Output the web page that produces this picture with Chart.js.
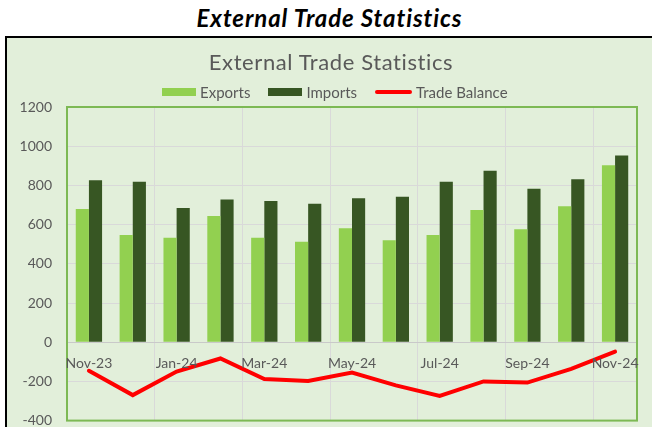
<!DOCTYPE html>
<html>
<head>
<meta charset="utf-8">
<title>External Trade Statistics</title>
<script src="https://cdn.jsdelivr.net/npm/chart.js"></script>
<style>
  body { margin: 0; background: #fff; width: 652px; height: 427px; overflow: hidden; position: relative; font-family: Lato, sans-serif; }
  #page-title { position: absolute; left: 0; width: 659px; top: 3px; text-align: center; font-weight: bold; font-style: italic; font-size: 24px; letter-spacing: 0.9px; color: #000; line-height: 30px; }
  #box { position: absolute; left: 5px; top: 36px; width: 700px; height: 420px; border: 2px solid #000; background: #E2EFDA; }
  #chart-title { position: absolute; left: 0; width: 648px; top: 10px; text-align: center; font-size: 22px; letter-spacing: 0.6px; color: #595959; line-height: 28px; }
  #legend { position: absolute; left: 155px; top: 45px; display: flex; align-items: center; font-size: 15px; color: #595959; line-height: 18px; }
  .item { display: flex; align-items: center; margin-right: 18px; }
  .swatch { width: 34px; height: 8px; margin-right: 4px; }
  .swatch.line { width: 37px; height: 4px; border-radius: 2px; }
  #wrap { position: absolute; left: 0; top: 0; width: 700px; height: 406px; }
</style>
</head>
<body>
<div id="page-title">External Trade Statistics</div>
<div id="box">
  <div id="wrap"><canvas id="trade"></canvas></div>
  <div id="chart-title">External Trade Statistics</div>
  <div id="legend"></div>
</div>
<script>
// months Nov-23 .. Nov-24
const months = ['Nov-23', 'Dec-23', 'Jan-24', 'Feb-24', 'Mar-24', 'Apr-24', 'May-24',
  'Jun-24', 'Jul-24', 'Aug-24', 'Sep-24', 'Oct-24', 'Nov-24'];
const exportsData = [680, 547, 533, 644, 533, 513, 581, 520, 547, 674, 576, 694, 903];
const importsData = [826, 819, 685, 728, 721, 706, 735, 742, 819, 875, 783, 832, 952];
const balanceData = [-146, -270, -150, -83, -188, -198, -155, -220, -274, -200, -206, -136, -48];

const textGray = '#595959';
const gridGray = '#D9D9D9';

const plotBorder = {
  id: 'plotBorder',
  beforeDatasetsDraw(chart) {
    const { ctx, chartArea } = chart;
    ctx.save();
    ctx.strokeStyle = '#7DB954';
    ctx.lineWidth = 2;
    ctx.strokeRect(chartArea.left, chartArea.top, chartArea.right - chartArea.left, chartArea.bottom - chartArea.top);
    ctx.restore();
  }
};

const chart = new Chart(document.getElementById('trade'), {
  type: 'bar',
  data: {
    labels: months,
    datasets: [
      {
        type: 'line',
        label: 'Trade Balance',
        data: balanceData,
        borderColor: '#FF0000',
        backgroundColor: '#FF0000',
        borderWidth: 4,
        pointRadius: 0,
        tension: 0,
        borderCapStyle: 'round',
        order: 0
      },
      {
        label: 'Exports',
        data: exportsData,
        backgroundColor: '#92D050',
        categoryPercentage: 0.6,
        barPercentage: 1,
        order: 1
      },
      {
        label: 'Imports',
        data: importsData,
        backgroundColor: '#375623',
        categoryPercentage: 0.6,
        barPercentage: 1,
        order: 1
      }
    ]
  },
  options: {
    responsive: true,
    maintainAspectRatio: false,
    animation: false,
    layout: { padding: { top: 69, right: 70, bottom: 7, left: 0 } },
    plugins: {
      legend: { display: false },
      title: { display: false },
      tooltip: { enabled: false }
    },
    scales: {
      x: {
        position: { y: 0 },
        grid: {
          color: c => (c.index !== undefined && c.index % 2 === 0) ? gridGray : 'transparent',
          drawTicks: false
        },
        border: { display: true, color: '#C9C9C9', width: 1 },
        ticks: {
          autoSkip: false,
          maxRotation: 0,
          padding: 13,
          color: textGray,
          font: { family: 'Lato', size: 14 },
          callback: function (v, i) { return i % 2 === 0 ? this.getLabelForValue(v) : ''; },
          z: 1
        }
      },
      y: {
        min: -400,
        max: 1200,
        ticks: {
          stepSize: 200,
          padding: 15,
          color: textGray,
          font: { family: 'Lato', size: 14 },
          callback: v => String(v)
        },
        grid: { color: gridGray, drawTicks: false },
        border: { display: false },
        afterFit: s => { s.width = 60; }
      }
    }
  },
  plugins: [plotBorder]
});

// legend in the order shown in the picture
const legend = document.getElementById('legend');
['Exports', 'Imports', 'Trade Balance'].forEach(name => {
  const ds = chart.data.datasets.find(d => d.label === name);
  const item = document.createElement('div');
  item.className = 'item';
  const sw = document.createElement('span');
  sw.className = ds.type === 'line' ? 'swatch line' : 'swatch';
  sw.style.background = ds.type === 'line' ? ds.borderColor : ds.backgroundColor;
  item.appendChild(sw);
  item.appendChild(document.createTextNode(name));
  legend.appendChild(item);
});
</script>
</body>
</html>
